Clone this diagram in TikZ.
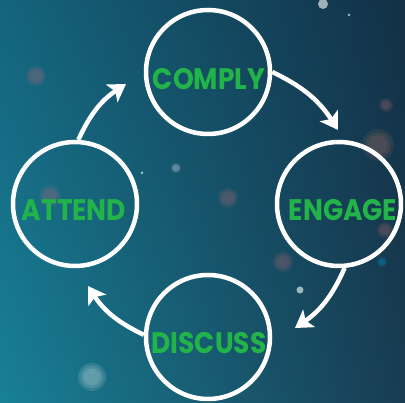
\documentclass[tikz,border=0pt]{standalone}
\usepackage{fontspec}
\usepackage{graphicx}
\newfontfamily\lblfont{Poppins}
\usetikzlibrary{arrows.meta,shadings}
\definecolor{lblgreen}{RGB}{34,180,72}
\definecolor{bgUL}{RGB}{20,100,125}
\definecolor{bgUR}{RGB}{18,48,70}
\definecolor{bgLL}{RGB}{24,128,150}
\definecolor{bgLR}{RGB}{24,60,82}
\definecolor{rosy}{RGB}{190,110,120}
\definecolor{amber}{RGB}{190,120,100}
\newcommand\lbltext[1]{\scalebox{1.0}[1.12]{#1}}
\begin{document}
\begin{tikzpicture}[x=1pt,y=1pt,
  ring/.style={circle, draw=white, line width=4.5pt, minimum size=124pt, inner sep=0pt},
  lbl/.style={text=lblgreen, font=\lblfont\bfseries\fontsize{26.5}{26.5}\selectfont, inner sep=0pt},
  arr/.style={draw=white, line width=4.5pt, -{Stealth[length=17pt,width=21pt,inset=4pt]}},
  bokeh/.style={fill=#1, opacity=0.12},
  spark/.style={fill=white, opacity=0.6}]
% background
\shade[upper left=bgUL, upper right=bgUR, lower left=bgLL, lower right=bgLR] (0,0) rectangle (405,403);
\useasboundingbox (0,0) rectangle (405,403);
% bokeh (soft, layered)
\foreach \x/\y/\r/\c in {36/327/10/rosy, 50/207/11/rosy, 228/205/10/rosy, 386/298/7/rosy,
  378/258/16/amber, 385/173/8/rosy, 283/141/10/rosy, 92/26/14/white, 176/235/5/white, 382/141/5/cyan}{
  \fill[bokeh=\c] (\x,\y) circle (\r);
  \fill[bokeh=\c] (\x,\y) circle (0.8*\r);
  \fill[bokeh=\c] (\x,\y) circle (0.6*\r);
}
\fill[spark] (300,113) circle (3.5);
\fill[spark] (323,399) circle (5);
\fill[spark] (349,388) circle (1.5);
\fill[spark] (142,230) circle (1.5);
% rings
\node[ring] (comply) at (208,331) {};
\node[ring] (engage) at (339,199) {};
\node[ring] (attend) at (75,199) {};
\node[ring] (discuss) at (208,66) {};
% labels
\node[lbl] (tcomply) at (209,324) {\lbltext{COMPLY}};
\node[lbl] (tengage) at (343,193) {\lbltext{ENGAGE}};
\node[lbl] (tattend) at (74,193) {\lbltext{ATTEND}};
\node[lbl] (tdiscuss) at (209,60) {\lbltext{DISCUSS}};
% arrow tips
\coordinate (e1) at (338,273);
\coordinate (e2) at (295,75);
\coordinate (e3) at (88,117);
\coordinate (e4) at (126,319);
\draw[arr] (comply.east) to[bend left=16] (e1);
\draw[arr] (engage.-85) to[bend left=16] (e2);
\draw[arr] (discuss.178) to[bend left=16] (e3);
\draw[arr] (attend.87) to[bend left=16] (e4);
\end{tikzpicture}
\end{document}
